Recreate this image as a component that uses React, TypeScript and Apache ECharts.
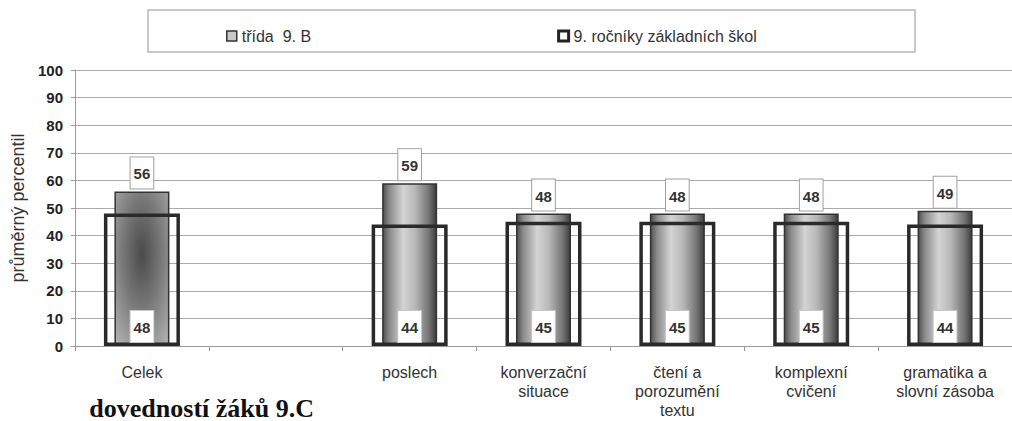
import React, { useEffect, useRef } from "react";
import * as echarts from "echarts";

const categories = [
  "Celek",
  "",
  "poslech",
  "konverzační\nsituace",
  "čtení a\nporozumění\ntextu",
  "komplexní\ncvičení",
  "gramatika a\nslovní zásoba",
];
const classValues: (number | null)[] = [56, null, 59, 48, 48, 48, 49];
const schoolValues: (number | null)[] = [48, null, 44, 45, 45, 45, 44];
const seriesNames = ["třída  9. B", "9. ročníky základních škol"];
const yTicks = { min: 0, max: 100, interval: 10 };
const footerText = "dovedností žáků 9.C";

const FONT = "Liberation Sans, Arial, sans-serif";

export default function App() {
  const ref = useRef<HTMLDivElement>(null);
  useEffect(() => {
    if (!ref.current) return;
    const chart = echarts.init(ref.current, undefined, { renderer: "svg" });

    const cylinder = new echarts.graphic.LinearGradient(0, 0, 1, 0, [
      { offset: 0, color: "#505050" },
      { offset: 0.12, color: "#8a8a8a" },
      { offset: 0.38, color: "#d4d4d4" },
      { offset: 0.6, color: "#b8b8b8" },
      { offset: 0.86, color: "#747474" },
      { offset: 1, color: "#3c3c3c" },
    ]);
    const celekFill = new echarts.graphic.RadialGradient(0.5, 0.4, 0.75, [
      { offset: 0, color: "#4a4a4a" },
      { offset: 0.5, color: "#7a7a7a" },
      { offset: 1, color: "#b0b0b0" },
    ]);

    const labelBox = {
      backgroundColor: "#ffffff",
      borderColor: "#a0a0a0",
      borderWidth: 1,
      padding: [9, 3, 7, 3],
      fontFamily: FONT,
      fontWeight: "bold" as const,
      fontSize: 15,
      color: "#333",
    };

    chart.setOption({
      animation: false,
      backgroundColor: "#ffffff",
      graphic: [
        {
          type: "rect",
          z: 0,
          shape: { x: 148, y: 10, width: 767, height: 42 },
          style: { fill: "#ffffff", stroke: "#b8b8b8", lineWidth: 1.5 },
        },
        {
          type: "text",
          z: 0,
          x: 314,
          y: 421,
          style: {
            text: footerText,
            fontFamily: "Liberation Serif, serif",
            fontWeight: "bold",
            fontSize: 26,
            fill: "#111",
            align: "right",
            verticalAlign: "bottom",
          },
        },
      ],
      legend: {
        z: 5,
        left: 221,
        top: 23,
        itemWidth: 10,
        itemHeight: 10,
        itemGap: 246,
        textStyle: { fontFamily: FONT, fontSize: 16, color: "#333" },
        data: [
          {
            name: seriesNames[0],
            icon: "rect",
            itemStyle: { color: "#c8c8c8", borderColor: "#333", borderWidth: 1.5 },
          },
          {
            name: seriesNames[1],
            icon: "rect",
            itemStyle: { color: "#ffffff", borderColor: "#222", borderWidth: 3 },
          },
        ],
      },
      grid: { left: 75, right: -15, top: 70, bottom: 75, containLabel: false },
      xAxis: [
        {
          type: "category",
          data: categories,
          axisLine: { lineStyle: { color: "#999", width: 1 } },
          axisTick: { show: true, length: 5, lineStyle: { color: "#999" } },
          axisLabel: {
            interval: 0,
            margin: 17,
            fontFamily: FONT,
            fontSize: 16,
            lineHeight: 19,
            color: "#333",
          },
        },
        { type: "category", data: categories, show: false },
      ],
      yAxis: {
        type: "value",
        min: yTicks.min,
        max: yTicks.max,
        interval: yTicks.interval,
        name: "průměrný percentil",
        nameLocation: "middle",
        nameGap: 48,
        nameTextStyle: { fontFamily: FONT, fontSize: 18, color: "#333" },
        axisLine: { show: true, lineStyle: { color: "#999" } },
        axisTick: { show: true, length: 4, lineStyle: { color: "#999" } },
        axisLabel: {
          margin: 12,
          fontFamily: FONT,
          fontWeight: "bold",
          fontSize: 15,
          color: "#222",
        },
        splitLine: { lineStyle: { color: "#aaa", width: 1 } },
      },
      series: [
        {
          name: seriesNames[0],
          type: "bar",
          xAxisIndex: 0,
          barWidth: 55,
          data: classValues.map((v, i) =>
            v === null
              ? null
              : {
                  value: v,
                  itemStyle: { color: i === 0 ? celekFill : cylinder },
                }
          ),
          itemStyle: { borderColor: "#333", borderWidth: 1.5 },
          label: {
            show: true,
            position: "top",
            distance: 3,
            ...labelBox,
          },
        },
        {
          name: seriesNames[1],
          type: "bar",
          xAxisIndex: 1,
          barWidth: 76,
          data: schoolValues,
          itemStyle: {
            color: "rgba(255,255,255,0)",
            borderColor: "#2a2a2a",
            borderWidth: 3.5,
          },
          label: {
            show: true,
            position: "insideBottom",
            distance: 4,
            ...labelBox,
            borderColor: "#c8c8c8",
          },
        },
      ],
    });
    return () => chart.dispose();
  }, []);
  return (
    <div
      ref={ref}
      style={{ position: "fixed", left: 0, top: 0, width: 1012, height: 421 }}
    />
  );
}
